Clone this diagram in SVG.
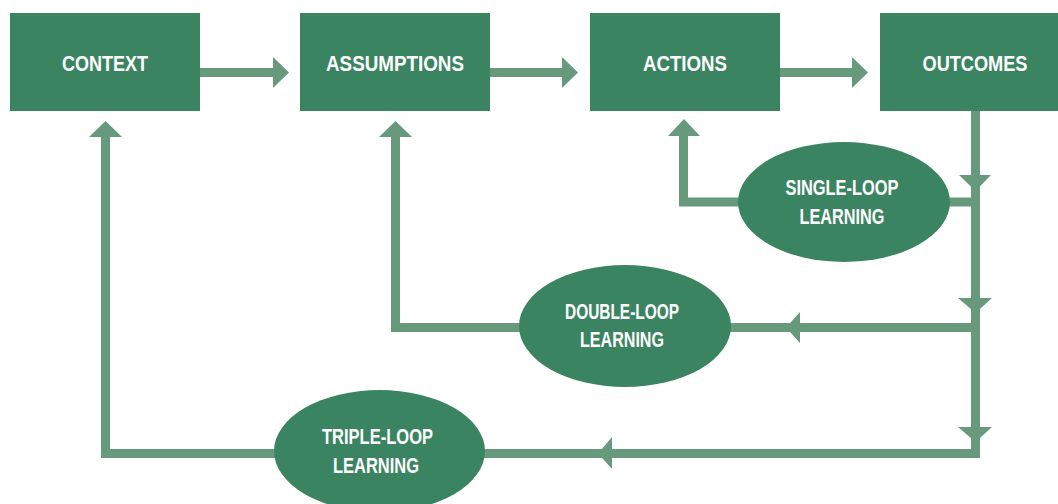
<svg xmlns="http://www.w3.org/2000/svg" width="1058" height="504" viewBox="0 0 1058 504">
<style>
.box{fill:#3b8462}
.ell{fill:#3b8462}
.t{font-family:"Liberation Sans",Arial,sans-serif;font-weight:bold;fill:#ffffff;text-anchor:middle}
.bt{font-size:22.5px}
.et{font-size:21.5px}
.ln{fill:none;stroke:#67997d;stroke-width:9;stroke-linecap:butt;stroke-linejoin:miter}
.hd{fill:#67997d}
</style>
<rect x="0" y="0" width="1058" height="504" fill="#ffffff"/>
<g id="connectors">
<path class="ln" d="M200 72.5H274"/>
<polygon class="hd" points="273,57 273,88 289,72.5"/>
<path class="ln" d="M490 72.5H563"/>
<polygon class="hd" points="562,57 562,88 578,72.5"/>
<path class="ln" d="M780 72.5H853"/>
<polygon class="hd" points="852,57 852,88 868,72.5"/>
<path class="ln" d="M975.5 111V458"/>
<polygon class="hd" points="959,175 991,175 975.5,191"/>
<polygon class="hd" points="958,298 992,298 975.5,313"/>
<polygon class="hd" points="958,427 992,427 975.5,442"/>
<path class="ln" d="M979 202H940"/>
<path class="ln" d="M745 202H683.5V135"/>
<polygon class="hd" points="668,136 700,136 684,119"/>
<path class="ln" d="M979 327.5H725"/>
<polygon class="hd" points="800,312 800,343 786,327.5"/>
<path class="ln" d="M525 327.5H395.5V136"/>
<polygon class="hd" points="379,137 412,137 395.5,121"/>
<path class="ln" d="M979 453.5H475"/>
<polygon class="hd" points="612,437 612,469 598,453.5"/>
<path class="ln" d="M285 453.5H105.5V136"/>
<polygon class="hd" points="89,137 122,137 105.5,121"/>
</g>
<g id="context">
<rect class="box" x="10" y="13" width="190" height="98"/>
<text class="t bt" x="105" y="71" textLength="86" lengthAdjust="spacingAndGlyphs">CONTEXT</text>
</g>
<g id="assumptions">
<rect class="box" x="300" y="13" width="190" height="98"/>
<text class="t bt" x="395" y="71" textLength="138" lengthAdjust="spacingAndGlyphs">ASSUMPTIONS</text>
</g>
<g id="actions">
<rect class="box" x="590" y="13" width="190" height="98"/>
<text class="t bt" x="685" y="71" textLength="84" lengthAdjust="spacingAndGlyphs">ACTIONS</text>
</g>
<g id="outcomes">
<rect class="box" x="880" y="13" width="190" height="98"/>
<text class="t bt" x="975" y="71" textLength="105" lengthAdjust="spacingAndGlyphs">OUTCOMES</text>
</g>
<g id="single-loop">
<ellipse class="ell" cx="844" cy="202" rx="106" ry="60"/>
<text class="t et" x="842" y="195" textLength="113" lengthAdjust="spacingAndGlyphs">SINGLE-LOOP</text>
<text class="t et" x="842" y="224" textLength="85" lengthAdjust="spacingAndGlyphs">LEARNING</text>
</g>
<g id="double-loop">
<ellipse class="ell" cx="625" cy="326" rx="106" ry="61"/>
<text class="t et" x="622" y="319" textLength="114" lengthAdjust="spacingAndGlyphs">DOUBLE-LOOP</text>
<text class="t et" x="622" y="347" textLength="84" lengthAdjust="spacingAndGlyphs">LEARNING</text>
</g>
<g id="triple-loop">
<ellipse class="ell" cx="379.5" cy="451" rx="105.5" ry="61"/>
<text class="t et" x="377.5" y="444" textLength="111" lengthAdjust="spacingAndGlyphs">TRIPLE-LOOP</text>
<text class="t et" x="376" y="473" textLength="86" lengthAdjust="spacingAndGlyphs">LEARNING</text>
</g>
</svg>
